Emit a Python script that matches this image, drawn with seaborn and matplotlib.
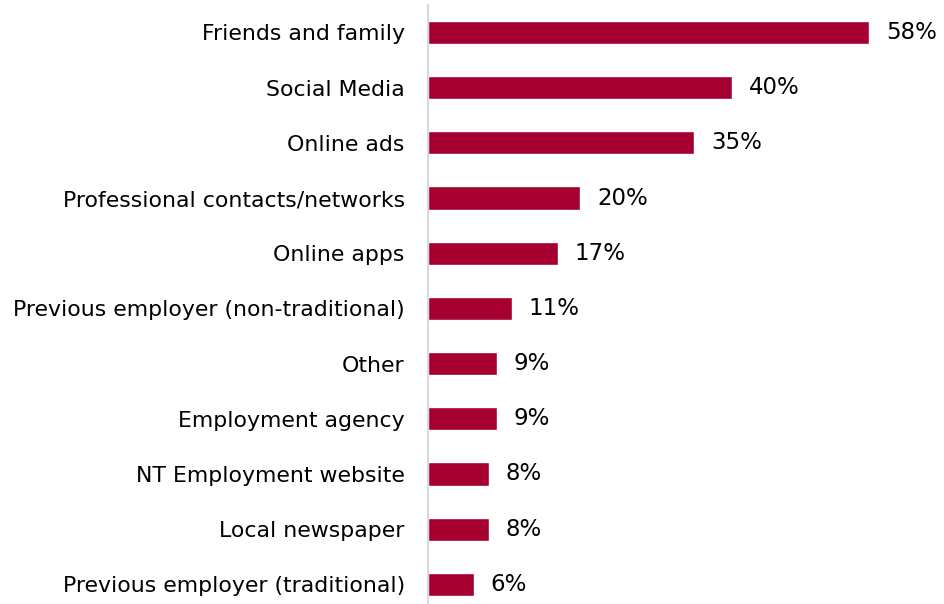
import matplotlib
matplotlib.use('Agg')
import matplotlib.pyplot as plt
import seaborn as sns
import pandas as pd

# Chart data
sources = ['Friends and family', 'Social Media', 'Online ads',
           'Professional contacts/networks', 'Online apps',
           'Previous employer (non-traditional)', 'Other', 'Employment agency',
           'NT Employment website', 'Local newspaper',
           'Previous employer (traditional)']
percents = [58, 40, 35, 20, 17, 11, 9, 9, 8, 8, 6]

df = pd.DataFrame({'Source': sources, 'Percent': percents})

sns.set_theme(style='white')
plt.rcParams['font.family'] = ['DejaVu Sans']

fig = plt.figure(figsize=(9.45, 6.04), dpi=100)
ax = fig.add_axes([0.4534, -0.0132, 0.5466, 1.0051])

sns.barplot(data=df, x='Percent', y='Source', orient='h', color='#A50030',
            saturation=1, width=0.42, ax=ax)

# value labels right of each bar
for i, v in enumerate(percents):
    ax.text(v + 2.2, i, f'{v}%', va='center', ha='left', fontsize=16.5, color='black')

ax.set_xlim(0, 68)
ax.set_ylim(10.5, -0.5)
ax.set_xlabel('')
ax.set_ylabel('')
ax.set_xticks([])
ax.tick_params(axis='y', length=0, pad=17, labelsize=15.8, labelcolor='black')
for side in ['top', 'right', 'bottom']:
    ax.spines[side].set_visible(False)
ax.spines['left'].set_color('#d9d9d9')
ax.spines['left'].set_linewidth(1.5)

fig.savefig('out.png', dpi=100)
